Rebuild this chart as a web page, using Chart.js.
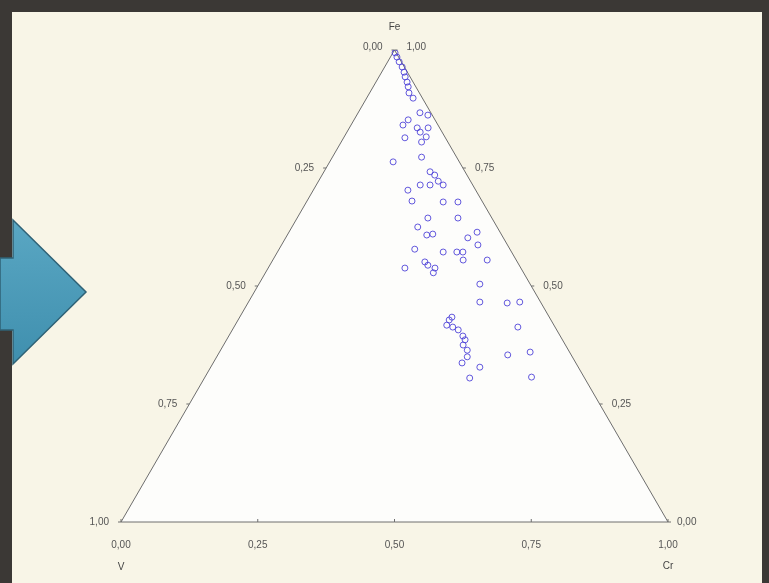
<!DOCTYPE html>
<html>
<head>
<meta charset="utf-8">
<script src="https://cdn.jsdelivr.net/npm/chart.js@4/dist/chart.umd.min.js"></script>
<style>
  html, body { margin: 0; padding: 0; background: #3b3835; }
  #wrap { width: 769px; height: 583px; }
</style>
</head>
<body>
<div id="wrap"><canvas id="chart" width="769" height="583"></canvas></div>
<script>
  // corner names
  const corners = ['V', 'Cr', 'Fe'];
  const tickValues = [0, 0.25, 0.5, 0.75, 1];
  const tickLabels = ['0,00', '0,25', '0,50', '0,75', '1,00'];

  // composition of each sample (V = 1 - Fe - Cr)
  const feShare = [
    0.994, 0.985, 0.975, 0.964, 0.953, 0.943, 0.932, 0.922, 0.909, 0.898,
    0.867, 0.862, 0.841, 0.852, 0.835, 0.826, 0.835, 0.814, 0.805, 0.816,
    0.763, 0.773, 0.742, 0.735, 0.722, 0.714, 0.714, 0.714, 0.703, 0.680,
    0.678, 0.678, 0.644, 0.644, 0.625, 0.608, 0.602, 0.614, 0.587, 0.578,
    0.572, 0.572, 0.572, 0.555, 0.555, 0.551, 0.544, 0.538, 0.528, 0.538,
    0.504, 0.466, 0.464, 0.466, 0.434, 0.417, 0.413, 0.407, 0.394, 0.386,
    0.364, 0.413, 0.350, 0.337, 0.328, 0.354, 0.360, 0.305, 0.307, 0.428,
    0.375, 0.610
  ];
  const crShare = [
    0.004, 0.012, 0.021, 0.032, 0.041, 0.048, 0.057, 0.064, 0.072, 0.085,
    0.113, 0.130, 0.095, 0.099, 0.124, 0.134, 0.144, 0.112, 0.147, 0.150,
    0.116, 0.163, 0.194, 0.206, 0.219, 0.190, 0.208, 0.232, 0.173, 0.192,
    0.250, 0.277, 0.239, 0.294, 0.230, 0.255, 0.333, 0.344, 0.359, 0.248,
    0.303, 0.328, 0.339, 0.348, 0.392, 0.280, 0.289, 0.305, 0.307, 0.250,
    0.404, 0.423, 0.474, 0.496, 0.388, 0.387, 0.400, 0.413, 0.428, 0.436,
    0.451, 0.519, 0.458, 0.455, 0.492, 0.530, 0.568, 0.485, 0.597, 0.386,
    0.438, 0.265
  ];

  const H = Math.sqrt(3) / 2;
  // ternary -> cartesian (V at origin, Cr at x = 1, Fe at the apex)
  function tern(fe, cr) {
    return { x: cr + fe / 2, y: fe * H };
  }

  const points = feShare.map((fe, i) => tern(fe, crShare[i]));

  const ternaryFrame = {
    id: 'ternaryFrame',
    beforeDraw(chart) {
      const ctx = chart.ctx;
      const sx = chart.scales.x, sy = chart.scales.y;
      const P = (fe, cr) => {
        const p = tern(fe, cr);
        return [sx.getPixelForValue(p.x), sy.getPixelForValue(p.y)];
      };
      ctx.save();
      // slide background with dark frame
      ctx.fillStyle = '#3b3835';
      ctx.fillRect(0, 0, chart.width, chart.height);
      ctx.fillStyle = '#f8f5e7';
      ctx.fillRect(12, 12, chart.width - 19, chart.height - 12);

      // arrow on the left
      ctx.beginPath();
      ctx.moveTo(0, 258);
      ctx.lineTo(13, 258);
      ctx.lineTo(13, 220);
      ctx.lineTo(86, 292);
      ctx.lineTo(13, 364);
      ctx.lineTo(13, 330);
      ctx.lineTo(0, 330);
      ctx.closePath();
      const g = ctx.createLinearGradient(0, 220, 0, 364);
      g.addColorStop(0, '#5aa7c3');
      g.addColorStop(1, '#3f8fae');
      ctx.fillStyle = g;
      ctx.fill();
      ctx.strokeStyle = '#2f6276';
      ctx.lineWidth = 1.5;
      ctx.stroke();

      // triangle
      const a = P(1, 0), b = P(0, 0), c = P(0, 1);
      ctx.beginPath();
      ctx.moveTo(a[0], a[1]);
      ctx.lineTo(b[0], b[1]);
      ctx.lineTo(c[0], c[1]);
      ctx.closePath();
      ctx.fillStyle = '#fdfdfb';
      ctx.fill();
      ctx.strokeStyle = '#6e6e6e';
      ctx.lineWidth = 1;
      ctx.stroke();

      ctx.font = '10px "Liberation Sans", Arial, sans-serif';
      ctx.fillStyle = '#555';
      ctx.textBaseline = 'middle';
      tickValues.forEach((v, i) => {
        // bottom edge: Cr
        let p = P(0, v);
        ctx.beginPath();
        ctx.moveTo(p[0], p[1]);
        ctx.lineTo(p[0], p[1] - 3);
        ctx.stroke();
        ctx.textAlign = 'center';
        ctx.fillText(tickLabels[i], p[0], p[1] + 23);
        // left edge: V
        p = P(1 - v, 0);
        ctx.beginPath();
        ctx.moveTo(p[0], p[1]);
        ctx.lineTo(p[0] - 3, p[1]);
        ctx.stroke();
        ctx.textAlign = 'right';
        ctx.fillText(tickLabels[i], p[0] - 12, p[1] - (v === 0 ? 3 : 0));
        // right edge: Fe
        p = P(v, 1 - v);
        ctx.beginPath();
        ctx.moveTo(p[0], p[1]);
        ctx.lineTo(p[0] + 3, p[1]);
        ctx.stroke();
        ctx.textAlign = 'left';
        ctx.fillText(tickLabels[i], p[0] + (v === 0 ? 9 : 12), p[1] - (v === 1 ? 3 : 0));
      });

      // corner names
      ctx.textAlign = 'center';
      ctx.fillStyle = '#444';
      ctx.fillText(corners[0], b[0], b[1] + 45);
      ctx.fillText(corners[1], c[0], c[1] + 44);
      ctx.fillText(corners[2], a[0], a[1] - 23);
      ctx.restore();
    }
  };

  new Chart(document.getElementById('chart'), {
    type: 'scatter',
    data: {
      datasets: [{
        label: 'Fe-V-Cr',
        data: points,
        pointStyle: 'circle',
        pointRadius: 3,
        pointBorderWidth: 1,
        borderColor: 'rgba(72,60,215,0.85)',
        backgroundColor: 'rgba(0,0,0,0)'
      }]
    },
    options: {
      responsive: false,
      animation: false,
      layout: { padding: { left: 121, right: 101, top: 50, bottom: 61 } },
      plugins: { legend: { display: false }, tooltip: { enabled: false } },
      scales: {
        x: { type: 'linear', min: 0, max: 1, display: false },
        y: { type: 'linear', min: 0, max: H, display: false }
      }
    },
    plugins: [ternaryFrame]
  });
</script>
</body>
</html>
